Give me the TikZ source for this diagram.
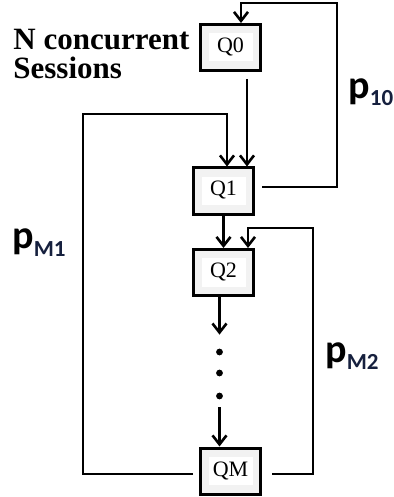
\documentclass[tikz,border=0pt]{standalone}
\usepackage{fontspec}
\setmainfont{Liberation Serif}
\newfontfamily\labfont{Carlito}
\usepackage{tikz}
\usetikzlibrary{arrows.meta,positioning}
\definecolor{boxgray}{RGB}{242,242,242}
\definecolor{subnavy}{RGB}{22,32,62}
\newcommand{\qname}[1]{{\setlength{\fboxsep}{0pt}\colorbox{white}{\fontsize{11pt}{13pt}\selectfont\makebox[22pt]{\rule[-4.5pt]{0pt}{14pt}#1}}}}
\newcommand{\psub}[1]{\raisebox{-3.5pt}{\fontsize{11.5pt}{12pt}\selectfont\color{subnavy}#1}}

\begin{document}
\begin{tikzpicture}[x=0.5pt,y=-0.5pt,
    qbox/.style={draw,line width=1.5pt,fill=boxgray,minimum width=30pt,minimum height=23pt,inner sep=0pt},
    link/.style={line width=1.3pt},
    arr/.style={link,-{Straight Barb[length=4.5pt,width=7pt]}},
    plab/.style={anchor=base west,inner sep=0pt,font=\labfont\bfseries\fontsize{20pt}{22pt}\selectfont}]
  \useasboundingbox (0,0) rectangle (393,497);
  \node[qbox] (q0) at (230.5,47.5) {\qname{Q0}};
  \node[qbox] (q1) at (223.5,191) {\qname{Q1}};
  \node[qbox] (q2) at (223.5,272.5) {\qname{Q2}};
  \node[qbox] (qm) at (230.5,471) {\qname{QM}};
  \node[inner sep=0pt,minimum width=6pt,minimum height=36pt] (dots) at (219.5,371) {};
  \foreach \y in {352,373,396}
    \fill (219.5,\y) circle (1.7pt);
  \node[anchor=north west,inner sep=0pt,align=left,font=\bfseries\fontsize{15.5pt}{14.5pt}\selectfont] (sess) at (13,29) {N concurrent\\Sessions};
  \node[plab] (p10) at (348,99) {p\psub{10}};
  \node[plab] (pm1) at (12,249) {p\psub{M1}};
  \node[plab] (pm2) at (325,362) {p\psub{M2}};
  \coordinate (top10) at (337,3);
  \coordinate (topm1) at (83,114);
  \coordinate (topm2) at (313,228);
  \draw[arr] ([shift={(16.5,7)}]q0.south) -- ([shift={(23.5,0)}]q1.north);
  \draw[arr] ([shift={(7,-4)}]q1.east) -| (top10) -| ([shift={(10.5,0)}]q0.north);
  \draw[arr] ([shift={(-6,3)}]qm.west) -| (topm1) -| ([shift={(3.5,0)}]q1.north);
  \draw[arr] (q1.south) -- (q2.north);
  \draw[arr] ([shift={(10,3)}]qm.east) -| (topm2) -| ([shift={(24.5,0)}]q2.north);
  \draw[arr] (q2.south -| dots) -- (dots.north);
  \draw[arr] (dots.south) -- (dots.south |- qm.north);
\end{tikzpicture}
\end{document}
